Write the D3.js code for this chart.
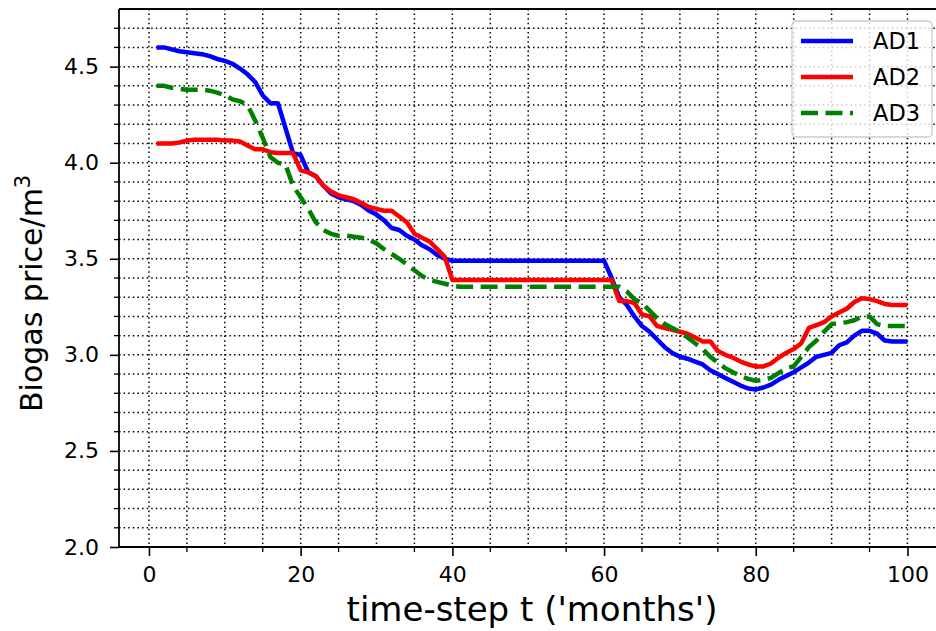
<!DOCTYPE html>
<html>
<head>
<meta charset="utf-8">
<script src="https://cdn.jsdelivr.net/npm/d3@7"></script>
<style>
  html, body { margin: 0; padding: 0; background: #fff; }
  svg { display: block; font-family: "DejaVu Sans", sans-serif; }
</style>
</head>
<body>
<svg id="chart" width="936" height="631"></svg>
<script>
// ---- data ----
const timeSteps = d3.range(1, 101);
const seriesNames = ["AD1", "AD2", "AD3"];
const ad1 = [
  4.60, 4.60, 4.59, 4.58, 4.575, 4.57, 4.565, 4.555, 4.54, 4.53,
  4.515, 4.49, 4.46, 4.42, 4.35, 4.31, 4.31, 4.18, 4.05, 4.04,
  3.95, 3.93, 3.88, 3.84, 3.82, 3.81, 3.80, 3.78, 3.75, 3.73,
  3.70, 3.66, 3.65, 3.62, 3.60, 3.57, 3.55, 3.52, 3.50, 3.49,
  3.49, 3.49, 3.49, 3.49, 3.49, 3.49, 3.49, 3.49, 3.49, 3.49,
  3.49, 3.49, 3.49, 3.49, 3.49, 3.49, 3.49, 3.49, 3.49, 3.49,
  3.40, 3.30, 3.26, 3.20, 3.15, 3.12, 3.08, 3.04, 3.01, 2.99,
  2.98, 2.965, 2.95, 2.92, 2.90, 2.88, 2.86, 2.84, 2.825, 2.82,
  2.83, 2.845, 2.87, 2.89, 2.91, 2.935, 2.96, 2.99, 3.00, 3.01,
  3.05, 3.065, 3.10, 3.125, 3.125, 3.11, 3.075, 3.07, 3.07, 3.07
];
const ad2 = [
  4.10, 4.10, 4.10, 4.105, 4.115, 4.12, 4.12, 4.12, 4.12, 4.115,
  4.115, 4.11, 4.09, 4.07, 4.07, 4.055, 4.05, 4.05, 4.05, 3.96,
  3.95, 3.93, 3.88, 3.85, 3.83, 3.82, 3.81, 3.79, 3.77, 3.76,
  3.75, 3.75, 3.72, 3.69, 3.63, 3.61, 3.59, 3.55, 3.51, 3.39,
  3.39, 3.39, 3.39, 3.39, 3.39, 3.39, 3.39, 3.39, 3.39, 3.39,
  3.39, 3.39, 3.39, 3.39, 3.39, 3.39, 3.39, 3.39, 3.39, 3.39,
  3.39, 3.28, 3.28, 3.27, 3.21, 3.20, 3.15, 3.14, 3.13, 3.12,
  3.11, 3.09, 3.07, 3.07, 3.02, 3.00, 2.985, 2.965, 2.95, 2.94,
  2.94, 2.955, 2.985, 3.01, 3.03, 3.06, 3.14, 3.155, 3.17, 3.20,
  3.22, 3.24, 3.275, 3.295, 3.29, 3.28, 3.265, 3.26, 3.26, 3.26
];
const ad3 = [
  4.40, 4.40, 4.39, 4.385, 4.38, 4.38, 4.38, 4.375, 4.365, 4.35,
  4.33, 4.32, 4.30, 4.22, 4.13, 4.03, 4.00, 3.99, 3.88, 3.82,
  3.76, 3.69, 3.65, 3.63, 3.62, 3.62, 3.615, 3.61, 3.60, 3.58,
  3.55, 3.525, 3.50, 3.47, 3.44, 3.41, 3.39, 3.38, 3.37, 3.36,
  3.355, 3.355, 3.355, 3.355, 3.355, 3.355, 3.355, 3.355, 3.355, 3.355,
  3.355, 3.355, 3.355, 3.355, 3.355, 3.355, 3.355, 3.355, 3.355, 3.355,
  3.355, 3.355, 3.33, 3.29, 3.27, 3.23, 3.19, 3.16, 3.14, 3.12,
  3.09, 3.06, 3.03, 2.99, 2.96, 2.93, 2.91, 2.89, 2.875, 2.865,
  2.87, 2.88, 2.905, 2.93, 2.94, 2.99, 3.04, 3.075, 3.12, 3.16,
  3.165, 3.17, 3.18, 3.20, 3.20, 3.16, 3.15, 3.15, 3.15, 3.15
];
const xTicks = [0, 20, 40, 60, 80, 100];
const yTicks = [2.0, 2.5, 3.0, 3.5, 4.0, 4.5];
const xLabel = "time-step t ('months')";
const yLabel = "Biogas price/m";

// ---- layout ----
const svg = d3.select("#chart");
const pL = 119, pR = 945, pT = 9, pB = 547;
const x = d3.scaleLinear().domain([-3.95, 104.95]).range([pL, pR]);
const y = d3.scaleLinear().domain([2.0, 4.8]).range([pB, pT]);

// grid (major + minor)
const xGrid = d3.range(0, 101, 5);
const yGrid = d3.range(21, 48).map(d => d / 10);
const grid = svg.append("g");
grid.selectAll("line.vx").data(xGrid).join("line")
  .attr("x1", d => x(d)).attr("x2", d => x(d))
  .attr("y1", pT).attr("y2", pB)
  .attr("stroke", "#000").attr("stroke-width", 1.5)
  .attr("stroke-dasharray", "1.5,3.1");
grid.selectAll("line.hy").data(yGrid).join("line")
  .attr("y1", d => y(d)).attr("y2", d => y(d))
  .attr("x1", pL).attr("x2", pR)
  .attr("stroke", "#000").attr("stroke-width", 1.5)
  .attr("stroke-dasharray", "1.5,3.1");

// lines
const series = [
  { name: seriesNames[0], values: ad1, color: "#0000ff", dash: null },
  { name: seriesNames[1], values: ad2, color: "#ff0000", dash: null },
  { name: seriesNames[2], values: ad3, color: "#008000", dash: "17,7.5" }
];
const line = d3.line().x((d, i) => x(timeSteps[i])).y(d => y(d));
const plot = svg.append("g");
series.forEach(s => {
  plot.append("path").datum(s.values)
    .attr("d", line)
    .attr("fill", "none")
    .attr("stroke", s.color)
    .attr("stroke-width", 4.5)
    .attr("stroke-linejoin", "round")
    .attr("stroke-dasharray", s.dash);
});

// axes
const xAxis = d3.axisBottom(x).tickValues(xTicks).tickSize(9).tickPadding(10).tickFormat(d3.format("d"));
const yAxis = d3.axisLeft(y).tickValues(yTicks).tickSize(9).tickPadding(11).tickFormat(d3.format(".1f"));
const gx = svg.append("g").attr("transform", `translate(0,${pB})`).call(xAxis);
const gy = svg.append("g").attr("transform", `translate(${pL},0)`).call(yAxis);
[gx, gy].forEach(g => {
  g.select(".domain").remove();
  g.selectAll(".tick line").attr("stroke", "#000").attr("stroke-width", 1.6);
  g.selectAll(".tick text").attr("fill", "#000").style("font-size", "22px")
    .style("font-family", "'DejaVu Sans', sans-serif");
});
// minor ticks
const xMinor = d3.range(5, 101, 10);
const yMinor = d3.range(21, 48).map(d => d / 10).filter(d => Math.round(d * 10) % 5 !== 0);
svg.append("g").selectAll("line").data(xMinor).join("line")
  .attr("x1", d => x(d)).attr("x2", d => x(d))
  .attr("y1", pB).attr("y2", pB + 5)
  .attr("stroke", "#000").attr("stroke-width", 1.3);
svg.append("g").selectAll("line").data(yMinor).join("line")
  .attr("y1", d => y(d)).attr("y2", d => y(d))
  .attr("x1", pL).attr("x2", pL - 5)
  .attr("stroke", "#000").attr("stroke-width", 1.3);

// spines
svg.append("line").attr("x1", pL).attr("x2", pL).attr("y1", pT).attr("y2", pB)
  .attr("stroke", "#000").attr("stroke-width", 1.8);
svg.append("line").attr("x1", pL).attr("x2", pR).attr("y1", pB).attr("y2", pB)
  .attr("stroke", "#000").attr("stroke-width", 1.8);
svg.append("line").attr("x1", pL).attr("x2", pR).attr("y1", pT).attr("y2", pT)
  .attr("stroke", "#000").attr("stroke-width", 1.8);
svg.append("line").attr("x1", pR).attr("x2", pR).attr("y1", pT).attr("y2", pB)
  .attr("stroke", "#000").attr("stroke-width", 1.8);

// axis labels
svg.append("text")
  .attr("x", (pL + pR) / 2).attr("y", 621)
  .attr("text-anchor", "middle")
  .style("font-size", "34px").attr("fill", "#000")
  .text(xLabel);
const yl = svg.append("text")
  .attr("transform", "translate(42,412) rotate(-90)")
  .attr("text-anchor", "start")
  .style("font-size", "30px").attr("fill", "#000");
yl.append("tspan").text(yLabel);
yl.append("tspan").attr("dy", -12).style("font-size", "21px").text("3");

// legend
const lg = svg.append("g");
lg.append("rect")
  .attr("x", 792).attr("y", 21).attr("width", 140).attr("height", 116)
  .attr("rx", 4).attr("ry", 4)
  .attr("fill", "#fff").attr("fill-opacity", 0.8)
  .attr("stroke", "#cccccc").attr("stroke-width", 1.3);
series.forEach((s, i) => {
  const yy = 41 + i * 36;
  lg.append("line")
    .attr("x1", 801).attr("x2", 853).attr("y1", yy).attr("y2", yy)
    .attr("stroke", s.color).attr("stroke-width", 4.5)
    .attr("stroke-dasharray", s.dash);
  lg.append("text")
    .attr("x", 873).attr("y", yy + 8)
    .style("font-size", "22.5px").attr("fill", "#000")
    .text(s.name);
});
</script>
</body>
</html>
